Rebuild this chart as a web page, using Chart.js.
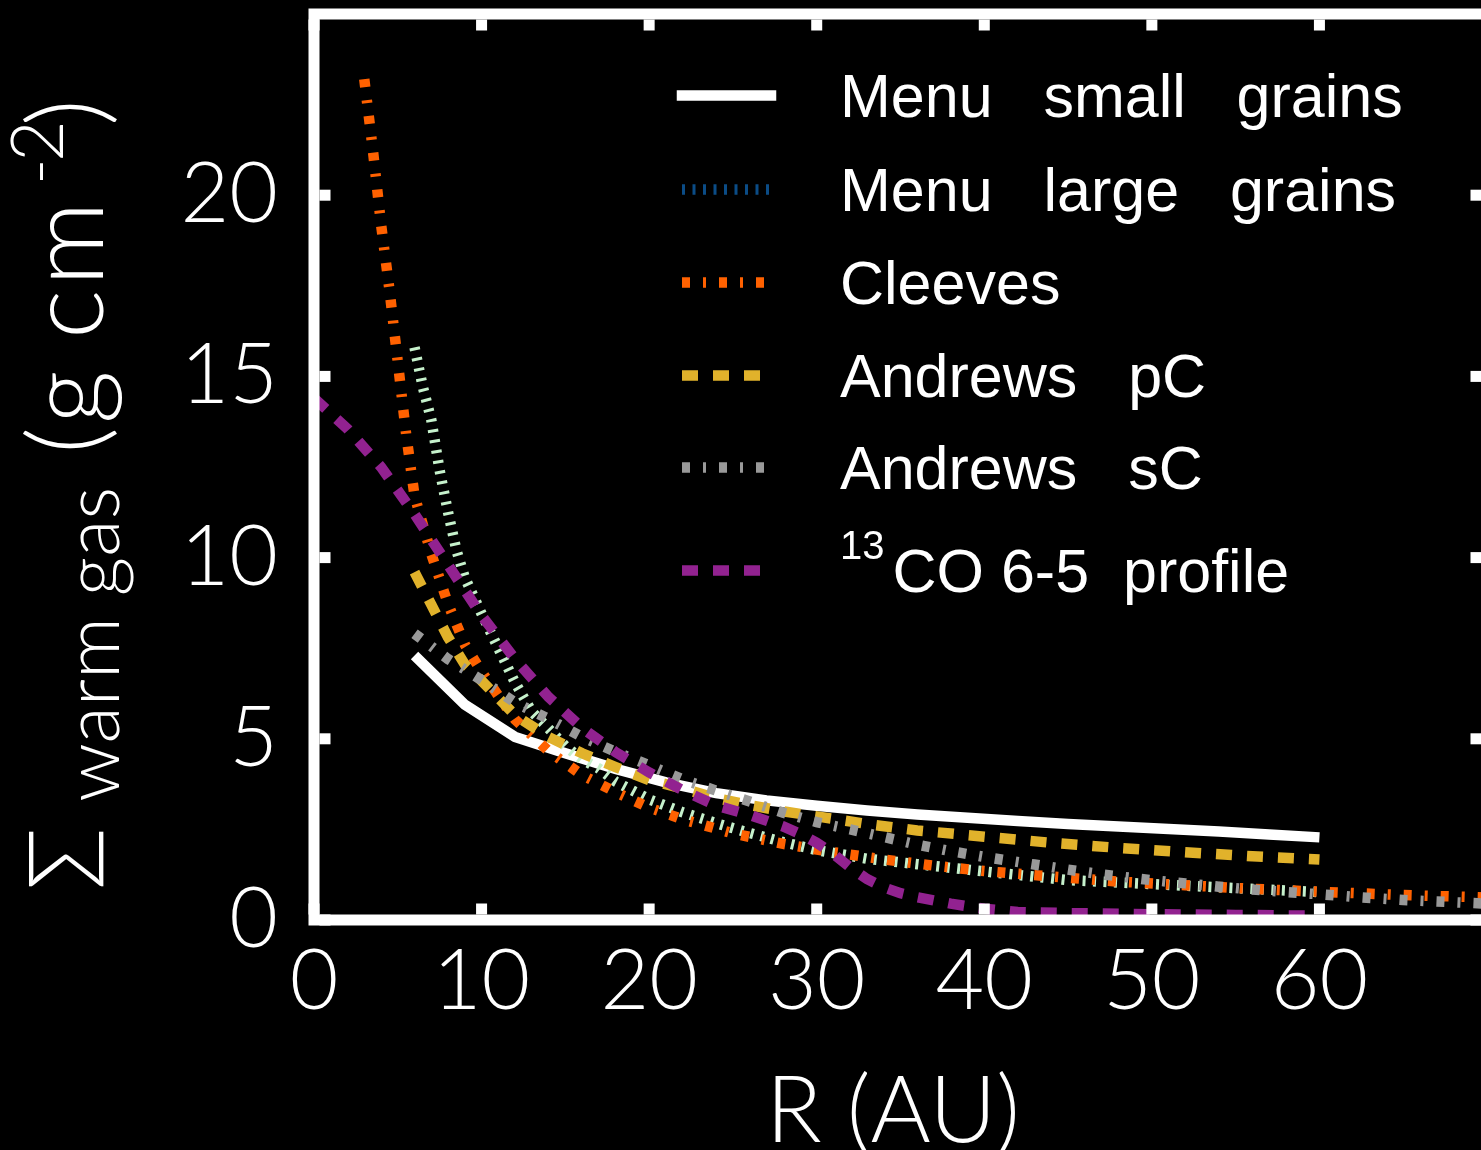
<!DOCTYPE html>
<html>
<head>
<meta charset="utf-8">
<title>Warm gas surface density</title>
<script src="https://cdn.jsdelivr.net/npm/chart.js@4.4.1/dist/chart.umd.min.js"></script>
<style>
  html, body { margin: 0; padding: 0; background: #000; overflow: hidden; }
  #wrap { width: 1500px; height: 1150px; }
</style>
</head>
<body>
<div id="wrap"><canvas id="chart" width="1500" height="1150"></canvas></div>
<script>
// === Data: R in AU, Sigma in g cm^-2 ===
var smallR     = [6, 9, 12, 15, 18, 21, 24, 27, 30, 33, 36, 39, 42, 45, 48, 51, 54, 57, 60];
var smallSigma = [7.3, 5.94, 5.05, 4.6, 4.17, 3.8, 3.5, 3.3, 3.15, 3.02, 2.91, 2.82, 2.73, 2.65, 2.58, 2.51, 2.44, 2.36, 2.28];

var largeR     = [6, 6.5, 7, 7.5, 8, 8.5, 9, 10, 11, 12, 13, 14, 15, 16, 17, 18, 20, 22, 24, 26, 28, 30, 33, 36, 40, 45, 50, 55, 60];
var largeSigma = [15.8, 14.7, 13.8, 12.4, 11.25, 10.2, 9.45, 8.45, 7.5, 6.55, 5.75, 5.28, 4.8, 4.43, 4.18, 3.82, 3.33, 2.97, 2.67, 2.4, 2.15, 1.93, 1.69, 1.54, 1.34, 1.1, 0.99, 0.88, 0.77];

var cleevesR     = [3, 3.5, 4, 4.5, 5, 5.5, 6, 7, 8, 9, 10, 12, 14, 16, 18, 20, 22, 25, 28, 31, 34, 37, 40, 44, 48, 52, 56, 60, 65, 70];
var cleevesSigma = [23.2, 21.3, 19.2, 17.4, 15.4, 13.4, 11.7, 10.1, 8.72, 7.6, 6.85, 5.53, 4.66, 4.0, 3.53, 3.1, 2.78, 2.39, 2.1, 1.87, 1.67, 1.5, 1.35, 1.2, 1.06, 0.96, 0.86, 0.78, 0.69, 0.62];

var andrewsPcR     = [6, 7, 8, 9, 10, 12, 14, 16, 18, 20, 22, 24, 26, 28, 30, 33, 36, 40, 44, 48, 52, 56, 60];
var andrewsPcSigma = [9.6, 8.7, 7.8, 7.05, 6.6, 5.65, 5.05, 4.6, 4.22, 3.86, 3.63, 3.36, 3.17, 3.0, 2.86, 2.65, 2.47, 2.3, 2.13, 1.99, 1.87, 1.76, 1.67];

var andrewsScR     = [6, 8, 10, 12, 14, 16, 18, 20, 22, 24, 26, 28, 30, 32, 34, 36, 38, 40, 43, 45, 47, 50, 52, 54, 56, 58, 60, 62, 65, 67, 70];
var andrewsScSigma = [7.9, 7.2, 6.62, 6.0, 5.55, 5.05, 4.64, 4.27, 3.88, 3.57, 3.27, 2.96, 2.7, 2.5, 2.29, 2.08, 1.9, 1.74, 1.53, 1.39, 1.26, 1.1, 1.01, 0.92, 0.84, 0.77, 0.71, 0.64, 0.55, 0.51, 0.45];

var coR     = [0, 2, 4, 6, 8, 10, 12, 14, 16, 18, 20, 22, 24, 26, 28, 29, 30, 31, 32, 33, 34, 35, 36, 38, 40, 42, 45, 50, 55, 60];
var coSigma = [14.4, 13.55, 12.5, 11.2, 9.8, 8.4, 7.2, 6.15, 5.3, 4.63, 4.07, 3.58, 3.16, 2.9, 2.58, 2.38, 2.13, 1.82, 1.45, 1.13, 0.9, 0.74, 0.63, 0.45, 0.31, 0.22, 0.19, 0.16, 0.14, 0.12];

var seriesNames = ['Menu   small   grains', 'Menu   large   grains', 'Cleeves', 'Andrews   pC', 'Andrews   sC', 'CO 6-5  profile'];
var seriesSup   = ['', '', '', '', '', '13'];
var xTickValues = [0, 10, 20, 30, 40, 50, 60];
var yTickValues = [0, 5, 10, 15, 20];

// === Styles ===
var lineColors   = ['#ffffff', '#c6f1cc', '#ff6100', '#e1b22b', '#999999', '#922290'];
var legendColors = ['#ffffff', '#0b4c86', '#ff6100', '#e1b22b', '#999999', '#922290'];
var lineDashes   = [[], [3, 7.5], [8, 13, 3, 13], [16, 15], [8, 13, 3, 13], [16, 15]];
var drawOrder    = [5, 4, 3, 2, 1, 0];
var LW = 10.5;
var tickFont = 'Lato, "DejaVu Sans", sans-serif';

function pairs(xs, ys) {
    return xs.map(function(x, i) { return { x: x, y: ys[i] }; });
}
var seriesData = [
    pairs(smallR, smallSigma),
    pairs(largeR, largeSigma),
    pairs(cleevesR, cleevesSigma),
    pairs(andrewsPcR, andrewsPcSigma),
    pairs(andrewsScR, andrewsScSigma),
    pairs(coR, coSigma)
];

var datasets = seriesData.map(function(d, i) {
    return {
        label: seriesNames[i],
        data: d,
        borderColor: lineColors[i],
        borderWidth: LW,
        borderDash: lineDashes[i],
        borderCapStyle: 'butt',
        borderJoinStyle: 'miter',
        pointRadius: 0,
        tension: 0,
        fill: false,
        order: drawOrder[i]
    };
});

// frame with inward ticks on all four sides
var framePlugin = {
    id: 'frame',
    afterDatasetsDraw: function(chart) {
        var ctx = chart.ctx, a = chart.chartArea;
        var xs = chart.scales.x, ys = chart.scales.y;
        var w = 11, len = 11, h = w / 2;
        ctx.save();
        ctx.strokeStyle = '#fff';
        ctx.fillStyle = '#fff';
        ctx.lineWidth = w;
        ctx.strokeRect(a.left, a.top, a.right - a.left, a.bottom - a.top);
        xs.ticks.forEach(function(t) {
            var px = xs.getPixelForValue(t.value);
            ctx.fillRect(px - h, a.bottom - h - len, w, len);
            ctx.fillRect(px - h, a.top + h, w, len);
        });
        ys.ticks.forEach(function(t) {
            var py = ys.getPixelForValue(t.value);
            ctx.fillRect(a.left + h, py - h, len, w);
            ctx.fillRect(a.right - h - len, py - h, len, w);
        });
        ctx.restore();
    }
};

// legend with dash samples, and the two axis titles
var textPlugin = {
    id: 'texts',
    afterDraw: function(chart) {
        var ctx = chart.ctx;
        ctx.save();

        // legend
        var rowY = [95.5, 189.5, 282.5, 375.5, 467.5, 570.5];
        var x0 = 682, x1 = 771, tx = 840;
        seriesNames.forEach(function(name, i) {
            var y = rowY[i];
            ctx.beginPath();
            ctx.strokeStyle = legendColors[i];
            ctx.lineWidth = LW;
            ctx.setLineDash(lineDashes[i]);
            ctx.lineCap = lineDashes[i].length ? 'butt' : 'square';
            ctx.moveTo(x0, y);
            ctx.lineTo(x1, y);
            ctx.stroke();

            ctx.setLineDash([]);
            ctx.fillStyle = '#fff';
            ctx.textBaseline = 'alphabetic';
            ctx.textAlign = 'left';
            var x = tx;
            if (seriesSup[i]) {
                ctx.font = '40px "Liberation Sans", Arial, sans-serif';
                ctx.fillText(seriesSup[i], x, y - 12);
                x += ctx.measureText(seriesSup[i]).width + 8;
            }
            ctx.font = '61px "Liberation Sans", Arial, sans-serif';
            ctx.fillText(name, x, y + 21);
        });

        // x title
        ctx.font = '300 92px ' + tickFont;
        ctx.textAlign = 'center';
        ctx.fillText('R (AU)', 893, 1142);

        // y title, rotated; u runs upward from the bottom of the label
        var pieces = [
            { t: '\u03A3',    u: 0,   size: 104, dy: 0 },
            { t: 'warm gas',  u: 88,  size: 77,  dy: 16 },
            { t: '(',         u: 436, size: 105, dy: 0 },
            { t: 'g',         u: 466, size: 105, dy: 0 },
            { t: 'c',         u: 551, size: 105, dy: 0 },
            { t: 'm',         u: 604, size: 105, dy: 0 },
            { t: '-',         u: 705, size: 72,  dy: -40 },
            { t: '2',         u: 728, size: 72,  dy: -40 },
            { t: ')',         u: 764, size: 105, dy: 0 }
        ];
        ctx.translate(103, 890);
        ctx.rotate(-Math.PI / 2);
        ctx.textAlign = 'left';
        pieces.forEach(function(p) {
            ctx.font = '300 ' + p.size + 'px ' + tickFont;
            ctx.fillText(p.t, p.u, p.dy);
        });
        ctx.restore();
    }
};

var ctx = document.getElementById('chart').getContext('2d');
new Chart(ctx, {
    type: 'line',
    data: { datasets: datasets },
    options: {
        responsive: false,
        animation: false,
        devicePixelRatio: 1,
        layout: { padding: { left: 0, top: 14, right: 13, bottom: 0 } },
        plugins: { legend: { display: false }, tooltip: { enabled: false } },
        scales: {
            x: {
                type: 'linear', min: 0, max: 70,
                grid: { display: false },
                border: { display: false },
                afterBuildTicks: function(scale) {
                    scale.ticks = xTickValues.map(function(v) { return { value: v }; });
                },
                afterFit: function(scale) {
                    scale.height = 230;
                    scale.paddingLeft = 0;
                    scale.paddingRight = 0;
                },
                ticks: {
                    color: '#fff', padding: 4, maxRotation: 0,
                    font: { family: tickFont, size: 84, weight: '300' }
                }
            },
            y: {
                type: 'linear', min: 0, max: 25,
                grid: { display: false },
                border: { display: false },
                afterBuildTicks: function(scale) {
                    scale.ticks = yTickValues.map(function(v) { return { value: v }; });
                },
                afterFit: function(scale) {
                    scale.width = 314;
                    scale.paddingTop = 0;
                    scale.paddingBottom = 0;
                },
                ticks: {
                    color: '#fff', padding: 28,
                    font: { family: tickFont, size: 84, weight: '300' }
                }
            }
        }
    },
    plugins: [framePlugin, textPlugin]
});
</script>
</body>
</html>
